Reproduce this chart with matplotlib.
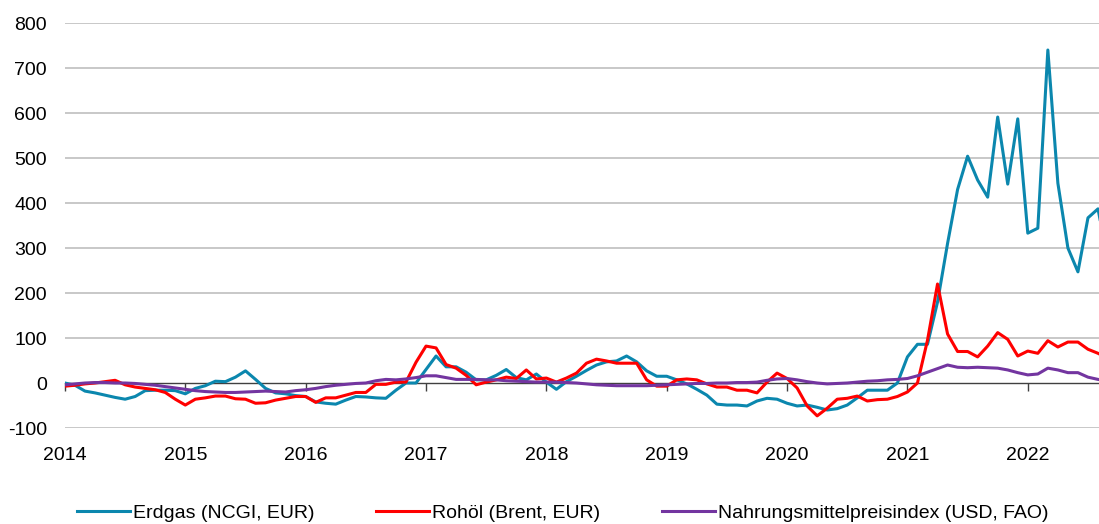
import numpy as np
import matplotlib
matplotlib.use("Agg")
import matplotlib.pyplot as plt

plt.rcParams['font.family'] = ['Liberation Sans Narrow', 'Liberation Sans', 'DejaVu Sans']
plt.rcParams['axes.unicode_minus'] = False

# monthly values since Jan 2014 (change vs. previous year, %)
gas = [0, -5, -18, -22, -27, -32, -36, -30, -17, -16, -16, -17,
       -24, -12, -6, 4, 3, 13, 27, 8, -12, -22, -24, -28,
       -30, -42, -45, -47, -38, -30, -31, -33, -34, -16, 0, 0,
       30, 60, 36, 36, 24, 7, 7, 17, 30, 12, 7, 20,
       2, -14, 3, 15, 28, 40, 47, 49, 60, 47, 27, 15,
       15, 7, -2, -14, -27, -47, -49, -49, -51, -40, -34, -36,
       -45, -51, -49, -54, -60, -57, -49, -33, -16, -16, -16, 0,
       58, 86, 86, 180, 310, 430, 504, 451, 413, 591, 442, 587,
       333, 344, 740, 444, 300, 247, 367, 387, 270]
oil = [-7, -5, -2, 0, 3, 6, -4, -9, -12, -15, -21, -36,
       -49, -36, -33, -29, -29, -35, -36, -45, -44, -38, -34, -30,
       -30, -43, -33, -33, -27, -21, -21, -3, -3, 2, 2, 46,
       82, 78, 41, 33, 17, -4, 2, 7, 13, 10, 29, 9,
       11, 2, 11, 22, 44, 53, 49, 44, 44, 44, 7, -7,
       -7, 7, 9, 7, -2, -9, -9, -16, -16, -22, 2, 22,
       10, -11, -51, -73, -56, -36, -34, -29, -40, -37, -36, -30,
       -20, 0, 95, 220, 109, 70, 70, 58, 82, 112, 97, 60,
       71, 66, 94, 80, 91, 91, 75, 66, 55]
food = [-4, -2, 0, 1, 1, 0, 0, -1, -3, -5, -8, -11,
        -14, -17, -19, -20, -21, -21, -20, -19, -18, -19, -20, -17,
        -15, -12, -8, -5, -3, -1, 0, 5, 8, 7, 9, 12,
        16, 16, 12, 8, 8, 8, 7, 7, 5, 4, 3, 2,
        2, 2, 1, 0, -2, -4, -5, -6, -6, -6, -6, -5,
        -4, -3, -2, -1, -1, 0, 0, 1, 1, 2, 6, 9,
        10, 7, 3, 0, -2, -1, 0, 2, 4, 5, 7, 8,
        10, 16, 24, 32, 40, 35, 34, 35, 34, 33, 29, 23,
        18, 20, 33, 29, 23, 23, 13, 8, 5]

years = ['2014', '2015', '2016', '2017', '2018', '2019', '2020', '2021', '2022']
labels = ['Erdgas (NCGI, EUR)', 'Rohöl (Brent, EUR)', 'Nahrungsmittelpreisindex (USD, FAO)']
colors = ['#0B87AE', '#FF0000', '#7335A0']

months = np.arange(len(gas))

fig = plt.figure(figsize=(10.99, 5.24), dpi=100)
ax = fig.add_axes([0.0591, 0.1832, 0.9409, 0.7729])

for vals, lab, col in zip([gas, oil, food], labels, colors):
    ax.plot(months, vals, color=col, lw=2.2, label=lab)

ax.set_ylim(-100, 800)
ax.set_xlim(0, 103.1)
ax.set_yticks(range(-100, 801, 100))
for v in range(-100, 801, 100):
    if v != 0:
        ax.axhline(v, color='#C4C4C4', lw=1.3, zorder=0)

for s in ['top', 'right', 'left']:
    ax.spines[s].set_visible(False)
ax.spines['bottom'].set_position(('data', 0))
ax.spines['bottom'].set_color('#404040')
ax.spines['bottom'].set_linewidth(1.0)
ax.spines['bottom'].set_zorder(1)

ax.set_xticks(np.arange(len(years)) * 12)
ax.set_xticklabels(years)
ax.tick_params(axis='x', direction='out', length=6, width=1, color='#404040',
               pad=40, labelsize=14)
ax.tick_params(axis='y', length=0, pad=13, labelsize=14)

fig.legend(loc='center', bbox_to_anchor=(0.512, 0.021), ncol=3, frameon=False,
           fontsize=14, handlelength=2.7, handletextpad=0.15, columnspacing=3.2)

fig.savefig('out.png', dpi=100)
